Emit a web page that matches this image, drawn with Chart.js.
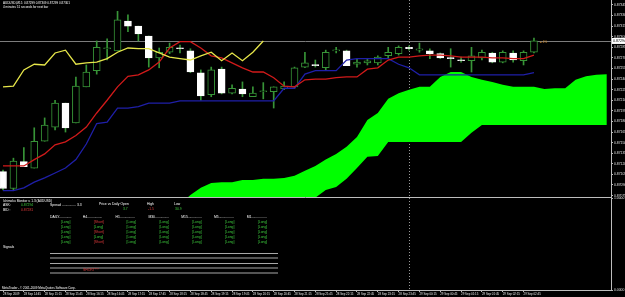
<!DOCTYPE html>
<html>
<head>
<meta charset="utf-8">
<script src="https://cdn.jsdelivr.net/npm/chart.js@4.4.1/dist/chart.umd.min.js"></script>
<style>
    html, body { margin: 0; padding: 0; background: #000; overflow: hidden; }
    #wrap { position: relative; width: 625px; height: 297px; background: #000; }
    canvas { position: absolute; left: 0; }
    #main { top: 0; }
    #sub { top: 197px; }
</style>
</head>
<body>
<div id="wrap">
    <canvas id="main" width="625" height="198"></canvas>
    <canvas id="sub" width="625" height="100"></canvas>
</div>
<script>
// AUDUSD M15, 52 bars starting 28 Sep 2009 14:15
const barTimes = [ '28 Sep 2009', '28 Sep 14:45', '28 Sep 15:15', '28 Sep 15:45', '28 Sep 16:15', '28 Sep 16:45',
    '28 Sep 17:15', '28 Sep 17:45', '28 Sep 18:15', '28 Sep 18:45', '28 Sep 19:15', '28 Sep 19:45', '28 Sep 20:15',
    '28 Sep 20:45', '28 Sep 21:15', '28 Sep 21:45', '28 Sep 22:15', '28 Sep 22:45', '28 Sep 23:15', '28 Sep 23:45',
    '29 Sep 00:15', '29 Sep 00:45', '29 Sep 01:15', '29 Sep 01:45', '29 Sep 02:15', '29 Sep 02:45' ];

const opens = [ 0.87109, 0.87085, 0.87123, 0.87114, 0.87152, 0.87172, 0.87206, 0.87178, 0.87229, 0.87252,
    0.87283, 0.87280, 0.87322, 0.87315, 0.87301, 0.87270, 0.87278, 0.87284, 0.87280, 0.87249,
    0.87218, 0.87254, 0.87220, 0.87226, 0.87215, 0.87222, 0.87222, 0.87226, 0.87229, 0.87257,
    0.87260, 0.87256, 0.87280, 0.87280, 0.87261, 0.87263, 0.87263, 0.87273, 0.87276, 0.87285,
    0.87281, 0.87280, 0.87276, 0.87270, 0.87267, 0.87266, 0.87270, 0.87277, 0.87264, 0.87277,
    0.87266, 0.87278 ];
const highs = [ 0.87111, 0.87128, 0.87143, 0.87171, 0.87185, 0.87210, 0.87206, 0.87243, 0.87260, 0.87294,
    0.87297, 0.87336, 0.87331, 0.87315, 0.87301, 0.87284, 0.87291, 0.87288, 0.87283, 0.87253,
    0.87257, 0.87257, 0.87232, 0.87236, 0.87229, 0.87235, 0.87229, 0.87236, 0.87257, 0.87278,
    0.87267, 0.87281, 0.87285, 0.87281, 0.87269, 0.87269, 0.87273, 0.87285, 0.87287, 0.87287,
    0.87291, 0.87283, 0.87277, 0.87283, 0.87271, 0.87285, 0.87281, 0.87278, 0.87280, 0.87280,
    0.87280, 0.87298 ];
const lows = [ 0.87083, 0.87083, 0.87116, 0.87114, 0.87152, 0.87168, 0.87165, 0.87178, 0.87229, 0.87247,
    0.87267, 0.87280, 0.87307, 0.87294, 0.87257, 0.87256, 0.87276, 0.87277, 0.87249, 0.87210,
    0.87215, 0.87219, 0.87219, 0.87215, 0.87215, 0.87212, 0.87199, 0.87225, 0.87227, 0.87256,
    0.87257, 0.87253, 0.87277, 0.87259, 0.87257, 0.87260, 0.87260, 0.87270, 0.87274, 0.87281,
    0.87278, 0.87269, 0.87269, 0.87257, 0.87264, 0.87250, 0.87267, 0.87263, 0.87263, 0.87264,
    0.87260, 0.87277 ];
const closes = [ 0.87085, 0.87124, 0.87116, 0.87152, 0.87175, 0.87206, 0.87171, 0.87230, 0.87250, 0.87285,
    0.87284, 0.87324, 0.87315, 0.87304, 0.87270, 0.87278, 0.87285, 0.87283, 0.87250, 0.87216,
    0.87253, 0.87220, 0.87227, 0.87219, 0.87220, 0.87223, 0.87229, 0.87230, 0.87256, 0.87263,
    0.87259, 0.87278, 0.87281, 0.87259, 0.87264, 0.87266, 0.87271, 0.87278, 0.87285, 0.87283,
    0.87283, 0.87276, 0.87270, 0.87269, 0.87266, 0.87273, 0.87278, 0.87264, 0.87278, 0.87267,
    0.87278, 0.87294 ];

const tenkan = [ 0.87117, 0.87117, 0.87117, 0.87126, 0.87134, 0.87147, 0.87151, 0.87160, 0.87172, 0.87192,
    0.87210, 0.87229, 0.87244, 0.87246, 0.87253, 0.87264, 0.87284, 0.87293, 0.87293, 0.87284,
    0.87273, 0.87270, 0.87263, 0.87256, 0.87250, 0.87250, 0.87242, 0.87230, 0.87229, 0.87239,
    0.87240, 0.87240, 0.87242, 0.87243, 0.87243, 0.87254, 0.87256, 0.87267, 0.87271, 0.87271,
    0.87273, 0.87274, 0.87274, 0.87273, 0.87271, 0.87271, 0.87271, 0.87270, 0.87270, 0.87269,
    0.87269, 0.87274 ];
const kijun = [ 0.87082, 0.87082, 0.87086, 0.87094, 0.87100, 0.87107, 0.87114, 0.87126, 0.87148, 0.87177,
    0.87179, 0.87199, 0.87199, 0.87201, 0.87206, 0.87206, 0.87206, 0.87209, 0.87209, 0.87209,
    0.87209, 0.87209, 0.87209, 0.87209, 0.87209, 0.87209, 0.87209, 0.87227, 0.87227, 0.87247,
    0.87252, 0.87252, 0.87252, 0.87267, 0.87269, 0.87269, 0.87269, 0.87269, 0.87261, 0.87256,
    0.87246, 0.87246, 0.87246, 0.87246, 0.87246, 0.87246, 0.87246, 0.87246, 0.87246, 0.87246,
    0.87246, 0.87249 ];
const chikou = [ 0.87229, 0.87230, 0.87253, 0.87261, 0.87260, 0.87277, 0.87281, 0.87261, 0.87263, 0.87264,
    0.87269, 0.87278, 0.87284, 0.87283, 0.87283, 0.87277, 0.87271, 0.87269, 0.87267, 0.87273,
    0.87278, 0.87266, 0.87277, 0.87266, 0.87278, 0.87294 ];

// cloud, shifted forward; first value belongs to bar 17
const cloudStart = 17;
const spanTop = [ 0.87062, 0.87076, 0.87086, 0.87093, 0.87094, 0.87094, 0.87097, 0.87097, 0.87099, 0.87099,
    0.87100, 0.87103, 0.87110, 0.87117, 0.87126, 0.87134, 0.87144, 0.87158, 0.87182, 0.87192,
    0.87212, 0.87220, 0.87225, 0.87229, 0.87229, 0.87243, 0.87250, 0.87250, 0.87243, 0.87239,
    0.87236, 0.87232, 0.87229, 0.87229, 0.87229, 0.87226, 0.87227, 0.87227, 0.87239, 0.87244,
    0.87246, 0.87247 ];
const spanBottom = [ 0.87048, 0.87048, 0.87048, 0.87048, 0.87048, 0.87048, 0.87048, 0.87048, 0.87048, 0.87048,
    0.87048, 0.87048, 0.87069, 0.87072, 0.87083, 0.87087, 0.87099, 0.87114, 0.87130, 0.87131,
    0.87151, 0.87151, 0.87151, 0.87151, 0.87151, 0.87151, 0.87151, 0.87151, 0.87164, 0.87175,
    0.87175, 0.87175, 0.87175, 0.87175, 0.87175, 0.87175, 0.87175, 0.87175, 0.87175, 0.87175,
    0.87175, 0.87175 ];

const priceTicks = [ 0.87345, 0.87330, 0.87315, 0.87300, 0.87285, 0.87270, 0.87255, 0.87240, 0.87225, 0.87210,
    0.87195, 0.87180, 0.87165, 0.87150, 0.87135, 0.87120, 0.87105, 0.87090, 0.87075 ];
const priceMin = 0.87073;
const priceMax = 0.87352;
const bidPrice = 0.87294;
const daySeparator = 39;

// Ichimoku Monitor panel
const timeframes = [ 'DAILY', 'H4', 'H1', 'M30', 'M15', 'M5', 'M1' ];
const signalRows = [
    [ 'Long', 'Short', 'Long', 'Long', 'Long', 'Long', 'Long' ],
    [ 'Long', 'Long', 'Long', 'Long', 'Long', 'Long', 'Long' ],
    [ 'Long', 'Short', 'Long', 'Long', 'Long', 'Long', 'Long' ],
    [ 'Long', 'Long', 'Long', 'Long', 'Long', 'Long', 'Long' ],
    [ 'Long', 'Short', 'Long', 'Long', 'Long', 'Long', 'Long' ]
];

const CANDLE = '#379437';
const TXT_GREEN = '#3cc83c';
const TXT_RED = '#e03a3a';
const AXIS = '#bdbdbd';
const FONT = '"Liberation Sans", Arial, sans-serif';
const xMin = -0.29, xMax = 58.4;

Chart.defaults.font.family = FONT;
Chart.defaults.color = '#e6e6e6';

function pts ( arr, start )
{
    return arr.map( ( v, i ) => ( { x: i + ( start || 0 ), y: v } ) );
}

function isBull ( i )
{
    return closes[ i ] >= opens[ i ];
}

function lineSet ( label, data, color, order )
{
    return { type: 'line', label, data, borderColor: color, borderWidth: 1.3, pointRadius: 0, tension: 0, fill: false, order };
}

function drawText ( ctx, text, x, y, color, size )
{
    ctx.font = ( size || 3.4 ) + 'px ' + FONT;
    ctx.fillStyle = color;
    ctx.textAlign = 'left';
    ctx.textBaseline = 'middle';
    ctx.fillText( text, x, y );
}

function drawSeparator ( chart )
{
    const { ctx, chartArea, scales } = chart;
    const x = Math.round( scales.x.getPixelForValue( daySeparator ) ) + 0.5;
    ctx.save();
    ctx.strokeStyle = '#9a9a9a';
    ctx.lineWidth = 1;
    ctx.setLineDash( [ 1, 2 ] );
    ctx.beginPath();
    ctx.moveTo( x, chartArea.top );
    ctx.lineTo( x, chartArea.bottom );
    ctx.stroke();
    ctx.restore();
}

const mainDecor = {
    id: 'mainDecor',
    beforeDatasetsDraw ( chart )
    {
        drawSeparator( chart );
        const { ctx, chartArea, scales } = chart;
        const y = Math.round( scales.y.getPixelForValue( bidPrice ) ) + 0.5;
        ctx.save();
        ctx.strokeStyle = '#7c7c7c';
        ctx.lineWidth = 1;
        ctx.beginPath();
        ctx.moveTo( chartArea.left, y );
        ctx.lineTo( chartArea.right, y );
        ctx.stroke();
        ctx.restore();
    },
    afterDraw ( chart )
    {
        const { ctx, chartArea, scales } = chart;
        ctx.save();
        drawText( ctx, 'AUDUSD,M15  0.87299 0.87309 0.87299 0.87301', 3, 3, '#ffffff', 3 );
        drawText( ctx, '4 minutes 51 seconds for next bar', 3, 7, '#ffffff', 3 );
        const y = scales.y.getPixelForValue( bidPrice );
        ctx.fillStyle = '#ffffff';
        ctx.fillRect( chartArea.right + 1, y - 3, 20, 6 );
        drawText( ctx, bidPrice.toFixed( 5 ), chartArea.right + 2, y, '#000000', 3.6 );
        const last = closes.length - 1;
        drawText( ctx, '\u25c4 4%', scales.x.getPixelForValue( last ) + 5, scales.y.getPixelForValue( highs[ last ] ) + 4, '#d9902e', 3 );
        ctx.restore();
    }
};

new Chart( document.getElementById( 'main' ), {
    type: 'bar',
    data: {
        datasets: [
            lineSet( 'Chikou Span', pts( chikou ), '#e6e64a', 0 ),
            lineSet( 'Tenkan-sen', pts( tenkan ), '#d11a1a', 1 ),
            lineSet( 'Kijun-sen', pts( kijun ), '#1f1fa8', 2 ),
            {
                type: 'bar',
                label: 'Bodies',
                data: opens.map( ( o, i ) => ( { x: i, y: [ o, closes[ i ] ] } ) ),
                backgroundColor: c => isBull( c.dataIndex ) ? '#000000' : '#ffffff',
                borderColor: c => isBull( c.dataIndex ) ? CANDLE : '#ffffff',
                borderWidth: 1,
                borderSkipped: false,
                barThickness: 7,
                minBarLength: 1,
                grouped: false,
                order: 3
            },
            {
                type: 'bar',
                label: 'Wicks',
                data: lows.map( ( l, i ) => ( { x: i, y: [ l, highs[ i ] ] } ) ),
                backgroundColor: CANDLE,
                borderWidth: 0,
                barThickness: 1,
                grouped: false,
                order: 4
            },
            {
                type: 'line', label: 'Senkou A', data: pts( spanTop, cloudStart ),
                borderWidth: 0, pointRadius: 0, tension: 0, fill: '+1', backgroundColor: '#00ff00', order: 5
            },
            {
                type: 'line', label: 'Senkou B', data: pts( spanBottom, cloudStart ),
                borderWidth: 0, pointRadius: 0, tension: 0, fill: false, order: 6
            }
        ]
    },
    options: {
        responsive: false,
        animation: false,
        events: [],
        layout: { padding: { top: 0, left: 0, right: 0, bottom: 1 } },
        plugins: { legend: { display: false }, tooltip: { enabled: false } },
        scales: {
            x: { type: 'linear', display: false, min: xMin, max: xMax, offset: false },
            y: {
                type: 'linear',
                position: 'right',
                min: priceMin,
                max: priceMax,
                afterBuildTicks: s => { s.ticks = priceTicks.map( v => ( { value: v } ) ); },
                afterFit: s => { s.width = 14; s.paddingTop = 0; s.paddingBottom = 0; },
                ticks: { autoSkip: false, padding: 1, color: '#e0e0e0', font: { size: 3.4 }, callback: v => v.toFixed( 5 ) },
                grid: { drawOnChartArea: false, drawTicks: true, tickLength: 2, color: AXIS },
                border: { display: true, color: AXIS }
            }
        }
    },
    plugins: [ mainDecor ]
} );

const subDecor = {
    id: 'subDecor',
    afterDraw ( chart )
    {
        const { ctx, chartArea } = chart;
        drawSeparator( chart );
        ctx.save();
        ctx.strokeStyle = AXIS;
        ctx.lineWidth = 1;
        ctx.beginPath();
        ctx.moveTo( 0, 0.5 );
        ctx.lineTo( chartArea.right, 0.5 );
        ctx.stroke();

        ctx.translate( 0, -197 );
        drawText( ctx, 'Ichimoku Monitor v. 1.3 (AUDUSD)', 3, 201, '#ffffff', 3.2 );
        drawText( ctx, 'ASK:', 3, 205.5, '#ffffff' );
        drawText( ctx, '0.87294', 21, 205.5, TXT_GREEN );
        drawText( ctx, 'BID :', 3, 210, '#ffffff' );
        drawText( ctx, '0.87281', 21, 210, TXT_RED );
        drawText( ctx, 'Spread ............... 3.3', 50, 205.5, '#ffffff' );
        drawText( ctx, 'Price vs Daily Open', 99, 204.5, '#ffffff' );
        drawText( ctx, '3.7', 123, 209, TXT_GREEN );
        drawText( ctx, 'High', 147, 204.5, '#ffffff' );
        drawText( ctx, '-1.5', 148, 209, TXT_RED );
        drawText( ctx, 'Low', 174, 204.5, '#ffffff' );
        drawText( ctx, '30.9', 175, 209, TXT_GREEN );

        timeframes.forEach( ( tf, k ) =>
        {
            const hx = 50 + k * 32.8;
            drawText( ctx, tf + '..................'.slice( tf.length ), hx, 217, '#ffffff' );
            signalRows.forEach( ( row, r ) =>
            {
                const sig = row[ k ];
                drawText( ctx, '[' + sig + ']', hx + 11, 222 + r * 5, sig === 'Short' ? TXT_RED : TXT_GREEN );
            } );
        } );

        drawText( ctx, 'Signals', 3, 247, '#ffffff' );
        ctx.strokeStyle = '#a8a8a8';
        [ 253.5, 258, 263.5, 268, 273 ].forEach( y =>
        {
            ctx.beginPath();
            ctx.moveTo( 50, y );
            ctx.lineTo( 278, y );
            ctx.stroke();
        } );
        drawText( ctx, 'SHORT***', 83, 270.5, TXT_RED );
        drawText( ctx, 'MetaTrader - \u00a9 2001-2009 MetaQuotes Software Corp.', 2, 288, '#ffffff', 3 );
        ctx.restore();
    }
};

new Chart( document.getElementById( 'sub' ), {
    type: 'line',
    data: { datasets: [] },
    options: {
        responsive: false,
        animation: false,
        events: [],
        layout: { padding: { top: 1, left: 0, right: 0, bottom: 0 } },
        plugins: { legend: { display: false }, tooltip: { enabled: false } },
        scales: {
            x: {
                type: 'linear',
                position: 'bottom',
                min: xMin,
                max: xMax,
                offset: false,
                afterBuildTicks: s => { s.ticks = barTimes.map( ( t, k ) => ( { value: k * 2 } ) ); },
                afterFit: s => { s.height = 7; s.paddingLeft = 0; s.paddingRight = 0; },
                ticks: {
                    autoSkip: false, maxRotation: 0, minRotation: 0, align: 'start', padding: 0,
                    color: '#e6e6e6', font: { size: 2.9 },
                    callback: v => barTimes[ Math.round( v / 2 ) ]
                },
                grid: { drawOnChartArea: false, drawTicks: true, tickLength: 2, color: AXIS },
                border: { display: true, color: AXIS }
            },
            y: {
                type: 'linear',
                position: 'right',
                min: 0,
                max: 1,
                afterBuildTicks: s => { s.ticks = [ { value: 1 }, { value: 0 } ]; },
                afterFit: s => { s.width = 14; s.paddingTop = 0; s.paddingBottom = 0; },
                ticks: { autoSkip: false, padding: 1, color: '#e0e0e0', font: { size: 3.4 }, callback: v => v === 1 ? '1.0000' : '0.0000' },
                grid: { drawOnChartArea: false, drawTicks: true, tickLength: 2, color: AXIS },
                border: { display: true, color: AXIS }
            }
        }
    },
    plugins: [ subDecor ]
} );
</script>
</body>
</html>
